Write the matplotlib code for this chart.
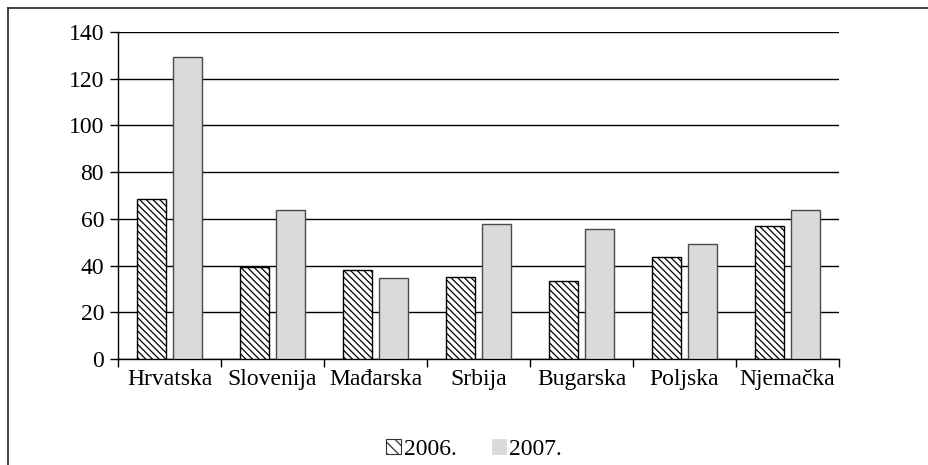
import matplotlib
matplotlib.use("Agg")
import matplotlib.pyplot as plt
from matplotlib.patches import Patch
from matplotlib.lines import Line2D
import numpy as np

categories = ["Hrvatska", "Slovenija", "Mađarska", "Srbija", "Bugarska", "Poljska", "Njemačka"]
series_labels = ["2006.", "2007."]
values_2006 = [68.5, 39.3, 38.0, 35.0, 33.3, 43.7, 57.1]
values_2007 = [129.3, 63.9, 34.6, 57.7, 55.6, 49.4, 63.9]
yticks = [0, 20, 40, 60, 80, 100, 120, 140]

plt.rcParams['font.family'] = ['Liberation Serif', 'DejaVu Serif']
plt.rcParams['hatch.linewidth'] = 0.9

fig = plt.figure(figsize=(9.29, 4.65), dpi=100)
ax = fig.add_axes([118/929, 1 - 359/465, (839-118)/929, (359-32)/465])

x = np.arange(len(categories))
w = 0.29
off = 0.175
ax.bar(x - off, values_2006, width=w, facecolor='white', edgecolor='black',
       hatch='\\' * 5, linewidth=1.0, zorder=3)
ax.bar(x + off, values_2007, width=w, facecolor='#dadada', edgecolor='#4a4a4a',
       linewidth=1.0, zorder=3)

ax.set_xlim(-0.5, len(categories) - 0.5)
ax.set_ylim(0, 140)
ax.set_yticks(yticks)
ax.set_yticklabels([str(v) for v in yticks], fontsize=17)
ax.yaxis.grid(True, color='black', linewidth=1.0)
ax.set_axisbelow(True)

ax.set_xticks(np.arange(len(categories) + 1) - 0.5)
ax.set_xticklabels([])
ax.set_xticks(x, minor=True)
ax.set_xticklabels(categories, minor=True, fontsize=17)
ax.tick_params(axis='x', which='minor', length=0, pad=7)
ax.tick_params(axis='x', which='major', length=6, width=1, direction='out')
ax.tick_params(axis='y', length=6, width=1, direction='out', pad=4)

for s in ['top', 'right']:
    ax.spines[s].set_visible(False)
for s in ['left', 'bottom']:
    ax.spines[s].set_linewidth(1.0)
    ax.spines[s].set_color('black')

handles = [Patch(facecolor='white', edgecolor='#333333', hatch='\\\\\\', linewidth=0.8),
           Patch(facecolor='#dadada', edgecolor='#dadada', linewidth=0.6)]
fig.legend(handles, series_labels, loc='center', bbox_to_anchor=(474/929, 1 - 449/465),
           ncol=2, frameon=False, fontsize=17, handlelength=0.62, handleheight=0.62,
           handletextpad=0.12, columnspacing=1.5, borderpad=0.2)

# page frame: top and left edges only
fig.lines.append(Line2D([8/929, 1.0], [1 - 8/465, 1 - 8/465], transform=fig.transFigure,
                        color='#222222', linewidth=1.2))
fig.lines.append(Line2D([8/929, 8/929], [0.0, 1 - 8/465], transform=fig.transFigure,
                        color='#222222', linewidth=1.2))

fig.savefig("out.png", dpi=100)
